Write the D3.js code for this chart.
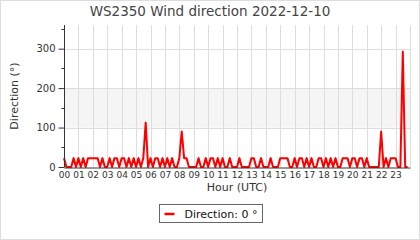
<!DOCTYPE html>
<html>
<head>
<meta charset="utf-8">
<script src="https://cdn.jsdelivr.net/npm/d3@7"></script>
<style>
  body { margin: 0; background: #fff; }
  svg { font-family: "DejaVu Sans", sans-serif; display: block; }
</style>
</head>
<body>
<div id="container"></div>
<script>
/* CONSTANTS AND GLOBALS */
const width = 420,
  height = 240,
  margin = { top: 25, right: 10, bottom: 73, left: 64 };

// chart texts
const title = "WS2350 Wind direction 2022-12-10";
const yLabel = "Direction (°)";
const xLabel = "Hour (UTC)";
const legendLabel = "Direction: 0 °";

// tick labels
const hourLabels = d3.range(24).map(h => String(h).padStart(2, "0"));
const yTickValues = [0, 100, 200, 300];
const yMinorValues = [50, 150, 250, 350];
const band = [100, 200];

// wind direction, one row per hour, 10 minute readings
const directionByHour = [
  [22.5, 0, 0, 0, 22.5, 0],
  [22.5, 0, 22.5, 0, 22.5, 22.5],
  [22.5, 22.5, 22.5, 0, 22.5, 0],
  [0, 22.5, 0, 22.5, 22.5, 0],
  [22.5, 22.5, 0, 22.5, 0, 22.5],
  [0, 22.5, 0, 22.5, 112.5, 0],
  [22.5, 0, 22.5, 22.5, 0, 22.5],
  [0, 22.5, 0, 22.5, 0, 0],
  [22.5, 90, 22.5, 22.5, 0, 0],
  [0, 0, 22.5, 0, 0, 22.5],
  [0, 22.5, 22.5, 0, 22.5, 0],
  [22.5, 0, 0, 22.5, 0, 0],
  [0, 22.5, 0, 0, 0, 0],
  [22.5, 22.5, 0, 0, 22.5, 0],
  [0, 0, 22.5, 0, 0, 0],
  [22.5, 22.5, 22.5, 22.5, 0, 0],
  [22.5, 0, 22.5, 22.5, 0, 22.5],
  [0, 22.5, 0, 0, 22.5, 22.5],
  [0, 22.5, 0, 22.5, 0, 22.5],
  [0, 0, 22.5, 22.5, 22.5, 0],
  [22.5, 22.5, 0, 22.5, 22.5, 0],
  [22.5, 0, 0, 0, 0, 0],
  [90, 0, 22.5, 0, 22.5, 22.5],
  [22.5, 0, 0, 292.5, 0, 0]
];

const data = [];
directionByHour.forEach((row, h) => {
  row.forEach((v, i) => data.push({ hour: h + i / 6, dir: v }));
});

/* SCALES */
const xScale = d3.scaleLinear()
  .domain([0, 24])
  .range([margin.left, width - margin.right]);

const yScale = d3.scaleLinear()
  .domain([0, 360])
  .range([height - margin.bottom, margin.top]);

/* SVG */
const svg = d3.select("#container").append("svg")
  .attr("width", width)
  .attr("height", height);

// outer frame
svg.append("rect")
  .attr("x", 0.5).attr("y", 0.5)
  .attr("width", width - 1).attr("height", height - 1)
  .attr("fill", "#fff")
  .attr("stroke", "#ddd");

// band 100-200
svg.append("rect")
  .attr("x", xScale(0))
  .attr("y", yScale(band[1]))
  .attr("width", xScale(24) - xScale(0))
  .attr("height", yScale(band[0]) - yScale(band[1]))
  .attr("fill", "#f5f5f5");

// grid
svg.append("g")
  .selectAll("line")
  .data(d3.range(1, 25))
  .join("line")
  .attr("x1", d => Math.round(xScale(d)) + 0.5)
  .attr("x2", d => Math.round(xScale(d)) + 0.5)
  .attr("y1", yScale(360))
  .attr("y2", yScale(0))
  .attr("stroke", "#ddd");

svg.append("g")
  .selectAll("line")
  .data(yTickValues.slice(1))
  .join("line")
  .attr("x1", xScale(0))
  .attr("x2", xScale(24))
  .attr("y1", d => Math.round(yScale(d)) + 0.5)
  .attr("y2", d => Math.round(yScale(d)) + 0.5)
  .attr("stroke", "#ddd");

// line
const line = d3.line()
  .x(d => xScale(d.hour))
  .y(d => yScale(d.dir));

svg.append("path")
  .datum(data)
  .attr("d", line)
  .attr("fill", "none")
  .attr("stroke", "#ff0000")
  .attr("stroke-width", 2)
  .attr("stroke-linejoin", "round");

// y axis
const yAxis = svg.append("g")
  .attr("transform", `translate(${Math.round(xScale(0)) + 0.5},0)`)
  .call(d3.axisLeft(yScale).tickValues(yTickValues).tickSize(6).tickPadding(3))
  .call(g => g.select(".domain").attr("stroke", "#333").attr("d", `M0,${yScale(360)}V${yScale(0)}`));
yAxis.selectAll(".tick line").attr("stroke", "#333");
yAxis.selectAll("text").attr("font-size", 10).attr("fill", "#333").attr("font-family", "DejaVu Sans");

svg.append("g")
  .attr("transform", `translate(${Math.round(xScale(0)) + 0.5},0)`)
  .selectAll("line")
  .data(yMinorValues)
  .join("line")
  .attr("x1", -3).attr("x2", 0)
  .attr("y1", d => Math.round(yScale(d)) + 0.5)
  .attr("y2", d => Math.round(yScale(d)) + 0.5)
  .attr("stroke", "#333");

// x axis
const xAxis = svg.append("g")
  .attr("transform", `translate(0,${Math.round(yScale(0)) + 0.5})`)
  .call(d3.axisBottom(xScale)
    .tickValues(d3.range(24))
    .tickFormat((d, i) => hourLabels[i])
    .tickSize(0).tickPadding(4))
  .call(g => g.select(".domain").attr("stroke", "#333"));
xAxis.selectAll("text").attr("font-size", 9).attr("fill", "#333").attr("font-family", "DejaVu Sans");

// title and axis labels
svg.append("text")
  .attr("x", width / 2).attr("y", 16)
  .attr("text-anchor", "middle")
  .attr("font-size", 13.5)
  .attr("fill", "#444")
  .text(title);

svg.append("text")
  .attr("x", (xScale(0) + xScale(24)) / 2).attr("y", 191)
  .attr("text-anchor", "middle")
  .attr("font-size", 11)
  .attr("fill", "#333")
  .text(xLabel);

svg.append("text")
  .attr("transform", `translate(18,${(yScale(0) + yScale(360)) / 2}) rotate(-90)`)
  .attr("text-anchor", "middle")
  .attr("font-size", 11)
  .attr("fill", "#333")
  .text(yLabel);

// legend
const legend = svg.append("g").attr("transform", "translate(159.5,204.5)");
legend.append("rect")
  .attr("width", 103).attr("height", 18)
  .attr("fill", "#fff")
  .attr("stroke", "#666");
legend.append("line")
  .attr("x1", 5).attr("x2", 15)
  .attr("y1", 9.5).attr("y2", 9.5)
  .attr("stroke", "#ff0000")
  .attr("stroke-width", 2.5);
legend.append("text")
  .attr("x", 25).attr("y", 13.5)
  .attr("font-size", 11)
  .attr("fill", "#111")
  .text(legendLabel);
</script>
</body>
</html>
